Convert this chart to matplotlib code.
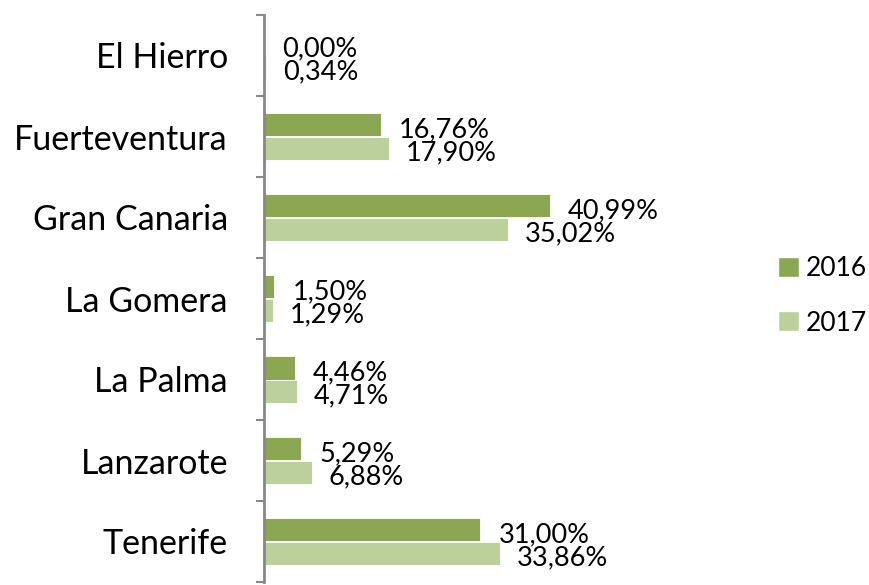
import matplotlib
matplotlib.use("Agg")
import matplotlib.pyplot as plt
from matplotlib.patches import Patch
import numpy as np

islands = ["El Hierro", "Fuerteventura", "Gran Canaria", "La Gomera",
           "La Palma", "Lanzarote", "Tenerife"]
share_2016 = [0.00, 16.76, 40.99, 1.50, 4.46, 5.29, 31.00]
share_2017 = [0.34, 17.90, 35.02, 1.29, 4.71, 6.88, 33.86]
years = ["2016", "2017"]

c16 = "#8BA752"
c17 = "#BBD09A"

plt.rcParams["font.family"] = ["Lato", "DejaVu Sans"]

fig = plt.figure(figsize=(8.69, 5.85), dpi=100)
ax = fig.add_axes([264 / 869, 1 - 582 / 585, 349 / 869, 567 / 585])

y = np.arange(len(islands))
h = 0.284
ax.barh(y - h / 2, share_2016, height=h, color=c16, edgecolor="white", linewidth=0.6)
ax.barh(y + h / 2, share_2017, height=h, color=c17, edgecolor="white", linewidth=0.6)

def fmt(v):
    return f"{v:.2f}%".replace(".", ",")

for yi, v in zip(y, share_2016):
    ax.annotate(fmt(v), (v, yi - h / 2), xytext=(13, -3.5), textcoords="offset points",
                va="center", ha="left", fontsize=19.5)
for yi, v in zip(y, share_2017):
    ax.annotate(fmt(v), (v, yi + h / 2), xytext=(12, -3.5), textcoords="offset points",
                va="center", ha="left", fontsize=19.5)

ax.set_xlim(0, 50)
ax.set_ylim(len(islands) - 0.5, -0.5)
ax.set_yticks(y)
ax.set_yticklabels(islands, fontsize=24.5)
ax.set_yticks(np.arange(-0.5, len(islands), 1), minor=True)
ax.tick_params(axis="y", which="major", length=0, pad=26)
ax.tick_params(axis="y", which="minor", length=6, width=1.5, color="#888888")
ax.set_xticks([])
for s in ["top", "right", "bottom"]:
    ax.spines[s].set_visible(False)
ax.spines["left"].set_color("#888888")
ax.spines["left"].set_linewidth(2)

handles = [Patch(facecolor=c16, edgecolor="white"), Patch(facecolor=c17, edgecolor="white")]
fig.legend(handles, years, loc="center left", bbox_to_anchor=(778 / 869, 1 - 296 / 585),
           frameon=False, fontsize=19, handlelength=0.8, handleheight=0.8,
           handletextpad=0.25, labelspacing=1.1, borderaxespad=0, borderpad=0)

fig.savefig("out.png", dpi=100)
